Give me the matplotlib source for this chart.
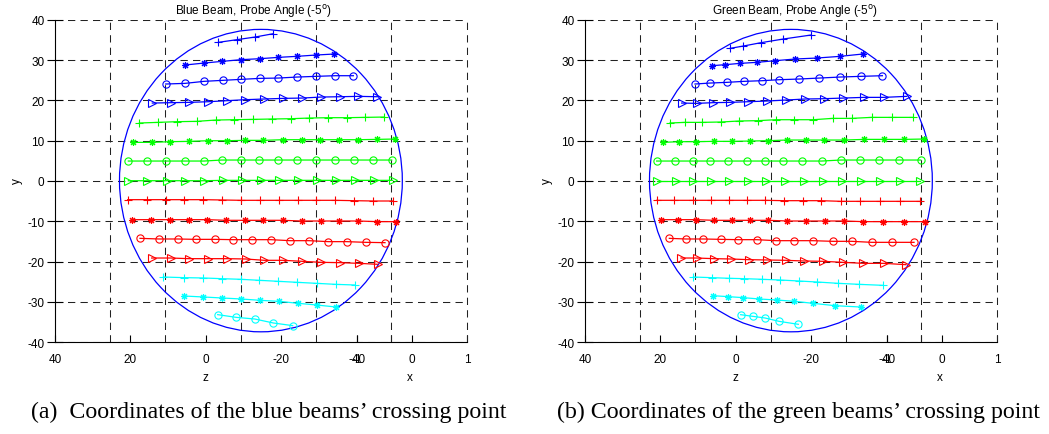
import matplotlib
matplotlib.use('Agg')
import matplotlib.pyplot as plt
from matplotlib.patches import Circle

plt.rcParams['font.family'] = ['Liberation Sans', 'DejaVu Sans']
plt.rcParams['axes.unicode_minus'] = False

# ---------------- data: left panel (blue beam) ----------------
LB_plus_z = [-3.31, -8.18, -13.04, -17.90]
LB_plus_y = [34.38, 35.04, 35.70, 36.53]
LB_star_z = [5.53, 0.49, -4.37, -9.24, -14.36, -19.22, -24.09, -29.21, -34.08]
LB_star_y = [28.76, 29.25, 29.67, 30.08, 30.33, 30.66, 30.91, 31.24, 31.49]
LB_circ_z = [10.65, 5.53, 0.49, -4.46, -9.24, -14.36, -19.22, -24.26, -29.21, -34.25, -39.11]
LB_circ_y = [24.05, 24.21, 24.71, 24.96, 25.20, 25.45, 25.53, 25.78, 25.95, 26.11, 26.11]
LB_tri_z = [14.19, 9.33, 4.38, -0.66, -5.52, -10.39, -15.42, -20.55, -25.59, -30.54, -35.58, -40.44, -45.48]
LB_tri_y = [19.33, 19.42, 19.50, 19.66, 19.91, 20.16, 20.33, 20.49, 20.57, 20.82, 20.90, 20.99, 20.90]

LG_plus_z = [17.64, 12.60, 7.74, 2.43, -2.69, -7.56, -12.42, -17.46, -22.50, -27.45, -32.48, -37.35, -42.21, -47.25]
LG_plus_y = [14.38, 14.54, 14.71, 14.79, 15.12, 15.20, 15.28, 15.37, 15.45, 15.61, 15.70, 15.70, 15.78, 15.86]
LG_star_z = [19.40, 14.37, 9.50, 4.38, -0.66, -5.52, -10.39, -15.25, -20.37, -25.41, -30.27, -35.31, -40.26, -45.30, -50.16]
LG_star_y = [9.58, 9.58, 9.75, 9.83, 9.99, 9.99, 10.08, 10.08, 10.24, 10.24, 10.24, 10.24, 10.24, 10.32, 10.41]
LG_circ_z = [20.55, 15.51, 10.56, 5.53, 0.49, -4.20, -9.24, -14.19, -19.22, -24.26, -29.21, -34.25, -39.29, -44.24, -49.28]
LG_circ_y = [4.95, 4.95, 4.95, 4.95, 4.95, 5.20, 5.20, 5.20, 5.20, 5.20, 5.20, 5.20, 5.20, 5.20, 5.20]
LG_tri_z = [20.55, 15.51, 10.39, 5.53, 0.49, -4.46, -9.50, -14.54, -19.49, -24.53, -29.39, -34.52, -39.56, -44.59, -49.54]
LG_tri_y = [0.07, 0.07, 0.07, 0.07, 0.07, 0.16, 0.16, 0.16, 0.16, 0.16, 0.16, 0.16, 0.16, 0.16, 0.16]

LR_plus_z = [20.73, 15.69, 10.65, 5.70, 0.66, -4.37, -9.32, -14.36, -19.40, -24.35, -29.21, -34.25, -39.29, -44.42, -49.54]
LR_plus_y = [-4.63, -4.63, -4.63, -4.63, -4.63, -4.71, -4.79, -4.79, -4.79, -4.79, -4.79, -4.79, -4.88, -4.96, -4.96]
LR_star_z = [19.67, 14.63, 9.50, 4.47, -0.40, -5.35, -10.39, -15.25, -20.37, -25.41, -30.45, -35.40, -40.44, -45.48, -50.43]
LR_star_y = [-9.59, -9.59, -9.59, -9.59, -9.59, -9.75, -9.75, -9.75, -9.75, -9.92, -9.92, -9.92, -9.92, -10.08, -10.08]
LR_circ_z = [17.46, 12.42, 7.47, 2.61, -2.43, -7.29, -12.33, -17.28, -22.32, -27.36, -32.48, -37.35, -42.38, -47.51]
LR_circ_y = [-14.22, -14.38, -14.38, -14.47, -14.47, -14.55, -14.55, -14.55, -14.80, -14.80, -15.04, -15.04, -15.21, -15.29]
LR_tri_z = [14.37, 9.33, 4.47, -0.48, -5.52, -10.56, -15.51, -20.55, -25.59, -30.54, -35.58, -40.62, -45.57]
LR_tri_y = [-19.10, -19.10, -19.26, -19.26, -19.26, -19.34, -19.67, -19.67, -19.92, -20.17, -20.25, -20.42, -20.66]

LC_plus_z = [11.27, 5.70, 0.66, -4.20, -9.32, -14.19, -19.22, -24.26, -29.39, -34.43, -39.56]
LC_plus_y = [-23.81, -23.97, -24.05, -24.22, -24.38, -24.63, -24.88, -25.13, -25.38, -25.63, -25.79]
LC_star_z = [5.79, 0.66, -4.29, -9.41, -14.36, -19.40, -24.44, -29.39, -34.43]
LC_star_y = [-28.52, -28.76, -29.01, -29.26, -29.59, -29.84, -30.33, -30.75, -31.24]
LC_circ_z = [-3.14, -8.00, -12.95, -17.90, -23.03]
LC_circ_y = [-33.14, -33.81, -34.22, -35.21, -35.87]

# ---------------- data: right panel (green beam) ----------------
RB_plus_z = [1.55, -1.99, -6.67, -12.59, -19.93]
RB_plus_y = [32.89, 33.47, 34.30, 35.21, 36.20]
RB_star_z = [6.41, 2.87, -1.10, -5.52, -10.39, -15.69, -21.43, -27.62, -33.63]
RB_star_y = [28.59, 28.84, 29.17, 29.42, 29.83, 30.25, 30.49, 30.91, 31.49]
RB_circ_z = [10.83, 6.85, 2.43, -2.16, -6.85, -11.53, -16.84, -22.14, -27.62, -33.10, -38.85]
RB_circ_y = [24.05, 24.29, 24.46, 24.71, 24.87, 25.12, 25.29, 25.53, 25.78, 25.95, 26.11]
RB_tri_z = [14.37, 10.39, 6.14, 1.55, -3.31, -8.18, -13.30, -18.34, -23.38, -28.51, -33.99, -39.29, -45.30]
RB_tri_y = [19.33, 19.25, 19.42, 19.50, 19.66, 19.83, 20.08, 20.33, 20.41, 20.57, 20.74, 20.74, 20.99]

RG_plus_z = [17.46, 13.48, 9.06, 3.93, -0.93, -5.79, -10.65, -15.42, -20.55, -25.68, -30.72, -36.02, -41.32, -46.89]
RG_plus_y = [14.38, 14.54, 14.54, 14.63, 14.88, 14.96, 15.20, 15.20, 15.20, 15.53, 15.53, 15.78, 15.78, 15.78]
RG_star_z = [19.40, 15.07, 10.56, 5.79, 1.11, -3.75, -8.44, -13.48, -18.60, -23.47, -28.77, -34.08, -39.29, -44.59, -49.98]
RG_star_y = [9.58, 9.75, 9.75, 9.83, 9.83, 9.91, 9.99, 10.16, 10.16, 10.16, 10.16, 10.32, 10.32, 10.32, 10.41]
RG_circ_z = [21.00, 16.13, 11.45, 6.85, 1.99, -2.87, -7.73, -12.59, -17.63, -22.76, -27.80, -32.93, -38.05, -43.36, -49.01]
RG_circ_y = [4.95, 4.95, 4.95, 4.95, 4.95, 4.95, 4.95, 4.95, 4.95, 4.95, 5.20, 5.20, 5.20, 5.20, 5.20]
RG_tri_z = [20.82, 15.96, 11.27, 6.59, 1.73, -3.14, -8.00, -13.04, -18.08, -23.03, -28.06, -33.10, -38.23, -43.53, -48.84]
RG_tri_y = [0.07, 0.07, 0.07, 0.07, 0.07, 0.07, 0.07, 0.07, 0.07, 0.07, 0.07, 0.07, 0.07, 0.07, 0.07]

RR_plus_z = [21.00, 16.31, 11.45, 6.68, 1.90, -2.87, -7.82, -12.77, -17.72, -22.58, -27.89, -32.93, -38.23, -43.53, -48.84]
RR_plus_y = [-4.79, -4.79, -4.79, -4.79, -4.79, -4.79, -4.79, -4.88, -4.88, -4.88, -5.04, -5.04, -5.04, -5.04, -5.04]
RR_star_z = [19.85, 15.25, 10.65, 5.79, 1.11, -3.75, -8.62, -13.66, -18.61, -23.64, -28.77, -33.81, -39.11, -44.68, -50.16]
RR_star_y = [-9.59, -9.59, -9.59, -9.75, -9.75, -9.75, -9.75, -9.92, -9.92, -9.92, -9.92, -10.08, -10.08, -10.08, -10.08]
RR_circ_z = [17.64, 13.30, 8.62, 4.02, -0.66, -5.52, -10.65, -15.42, -20.37, -25.68, -30.72, -36.02, -41.50, -47.25]
RR_circ_y = [-14.22, -14.38, -14.38, -14.47, -14.55, -14.55, -14.80, -14.80, -14.80, -14.96, -14.96, -15.21, -15.21, -15.21]
RR_tri_z = [14.54, 10.39, 5.79, 1.37, -3.49, -8.35, -13.30, -18.16, -23.20, -28.33, -33.81, -39.29, -45.12]
RR_tri_y = [-19.10, -19.10, -19.26, -19.34, -19.51, -19.59, -19.67, -19.84, -19.92, -20.17, -20.42, -20.42, -20.75]

RC_plus_z = [11.27, 6.41, 1.81, -2.25, -7.03, -11.71, -16.75, -21.61, -27.18, -32.75, -38.94]
RC_plus_y = [-23.81, -23.97, -24.13, -24.22, -24.38, -24.55, -24.80, -25.05, -25.38, -25.63, -25.87]
RC_star_z = [6.14, 1.99, -1.99, -6.23, -10.83, -15.51, -20.55, -26.30, -33.10]
RC_star_y = [-28.44, -28.68, -28.93, -29.26, -29.51, -29.84, -30.34, -30.92, -31.25]
RC_circ_z = [-1.28, -4.46, -7.73, -11.44, -16.57]
RC_circ_y = [-33.15, -33.56, -33.97, -34.80, -35.54]

# boundary circle (z centre, y centre, radius)
circle_z = -14.6
circle_y = 0.1
circle_r = 37.5

# axis ticks / labels (z axis, plus the overlaid x axis -1..1 at its right end)
z_tick_pos = [40, 20, 0, -20, -40, -40.09, -49.1, -54.67, -69.25]
z_tick_labels = ['40', '20', '0', '-20', '-40', '-1', '', '0', '1']
y_ticks = [-40, -30, -20, -10, 0, 10, 20, 30, 40]
vertical_grid_z = [25.42, 10.83, -9.2, -29.15, -49.1, -69.25]

titles = ['Blue Beam, Probe Angle (-5$^{\\mathrm{o}}$)', 'Green Beam, Probe Angle (-5$^{\\mathrm{o}}$)']
captions = ['(a)  Coordinates of the blue beams\u2019 crossing point',
            '(b) Coordinates of the green beams\u2019 crossing point']

BLUE, GREEN, RED, CYAN = '#0000ff', '#00ff00', '#ff0000', '#00ffff'
AST = (8, 2, 0)

left_series = [
    (LB_plus_z, LB_plus_y, BLUE, '+'), (LB_star_z, LB_star_y, BLUE, AST),
    (LB_circ_z, LB_circ_y, BLUE, 'o'), (LB_tri_z, LB_tri_y, BLUE, '>'),
    (LG_plus_z, LG_plus_y, GREEN, '+'), (LG_star_z, LG_star_y, GREEN, AST),
    (LG_circ_z, LG_circ_y, GREEN, 'o'), (LG_tri_z, LG_tri_y, GREEN, '>'),
    (LR_plus_z, LR_plus_y, RED, '+'), (LR_star_z, LR_star_y, RED, AST),
    (LR_circ_z, LR_circ_y, RED, 'o'), (LR_tri_z, LR_tri_y, RED, '>'),
    (LC_plus_z, LC_plus_y, CYAN, '+'), (LC_star_z, LC_star_y, CYAN, AST),
    (LC_circ_z, LC_circ_y, CYAN, 'o'),
]
right_series = [
    (RB_plus_z, RB_plus_y, BLUE, '+'), (RB_star_z, RB_star_y, BLUE, AST),
    (RB_circ_z, RB_circ_y, BLUE, 'o'), (RB_tri_z, RB_tri_y, BLUE, '>'),
    (RG_plus_z, RG_plus_y, GREEN, '+'), (RG_star_z, RG_star_y, GREEN, AST),
    (RG_circ_z, RG_circ_y, GREEN, 'o'), (RG_tri_z, RG_tri_y, GREEN, '>'),
    (RR_plus_z, RR_plus_y, RED, '+'), (RR_star_z, RR_star_y, RED, AST),
    (RR_circ_z, RR_circ_y, RED, 'o'), (RR_tri_z, RR_tri_y, RED, '>'),
    (RC_plus_z, RC_plus_y, CYAN, '+'), (RC_star_z, RC_star_y, CYAN, AST),
    (RC_circ_z, RC_circ_y, CYAN, 'o'),
]

MSIZE = {'+': 5.5, 'o': 5.2, '>': 6.2}

W, H = 1049, 435
fig = plt.figure(figsize=(W / 100, H / 100), dpi=100)

dash = (0, (7, 5))


def draw_panel(x0, series, title, title_cx, caption, caption_cx):
    ax = fig.add_axes([(x0 + 55) / W, 1 - 343.3 / H, 412 / W, 322.6 / H])
    ax.set_xlim(40, -69.25)
    ax.set_ylim(-40, 40)
    for s in ['top', 'right']:
        ax.spines[s].set_visible(False)
    for s in ['left', 'bottom']:
        ax.spines[s].set_linewidth(0.8)
    ax.set_yticks(y_ticks)
    ax.set_xticks(z_tick_pos)
    ax.set_xticklabels(z_tick_labels)
    ax.tick_params(axis='y', direction='inout', length=11, width=0.8,
                   labelsize=8.5, pad=2)
    ax.tick_params(axis='x', direction='in', length=5, width=0.8,
                   labelsize=8.5, pad=8)
    ax.yaxis.grid(True, linestyle=dash, color='#222222', lw=0.75)
    for zv in vertical_grid_z:
        ax.axvline(zv, linestyle=dash, color='#222222', lw=0.75, clip_on=False)
    ax.add_patch(Circle((circle_z, circle_y), circle_r, fill=False,
                        edgecolor=BLUE, lw=0.9, zorder=3))
    for zs, ys, col, mk in series:
        ax.plot(zs, ys, color=col, lw=0.9, marker=mk,
                markersize=MSIZE.get(mk, 5.0), markerfacecolor='none',
                markeredgecolor=col, markeredgewidth=0.8, zorder=4)
    fig.text(title_cx / W, 1 - 12 / H, title, ha='center', va='center', fontsize=8.5)
    fig.text((x0 + 17) / W, 1 - 181 / H, 'y', rotation=90, ha='center',
             va='center', fontsize=8.5)
    fig.text((x0 + 205) / W, 1 - 378 / H, 'z', ha='center', va='center', fontsize=8.5)
    fig.text((x0 + 410) / W, 1 - 378 / H, 'x', ha='center', va='center', fontsize=8.5)
    fig.text(caption_cx / W, 1 - 412 / H, caption, ha='center', va='center',
             fontsize=17.2, family=['Liberation Serif', 'DejaVu Serif'])
    return ax


draw_panel(0, left_series, titles[0], 254, captions[0], 269)
draw_panel(530, right_series, titles[1], 795, captions[1], 798)

fig.savefig('out.png', dpi=100)
